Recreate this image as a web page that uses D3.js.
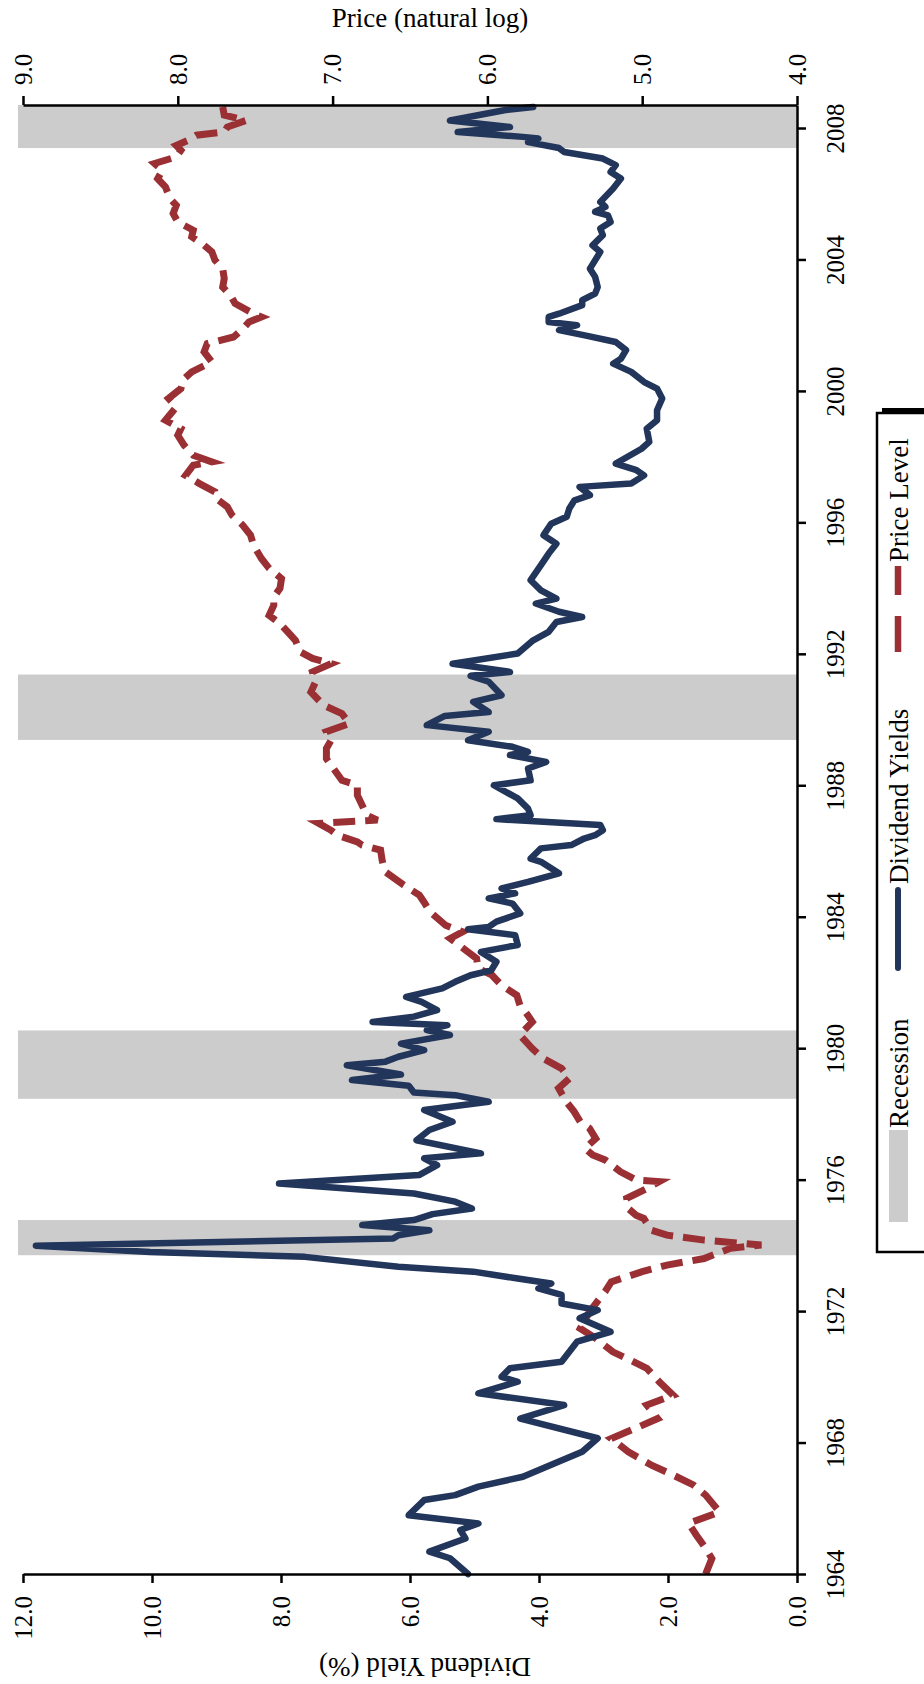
<!DOCTYPE html>
<html>
<head>
<meta charset="utf-8">
<script src="https://cdn.jsdelivr.net/npm/d3@7"></script>
<style>
  body { margin: 0; background: #fff; }
  svg text { font-family: "Liberation Serif", "Times New Roman", serif; fill: #000; }
</style>
</head>
<body>
<div id="chart"></div>
<script>
// Chart is a Stata-style figure turned 90 degrees: years run bottom -> top.
var width = 924, height = 1684;

// Data (time in decimal years)
var divYear = [1964.00,1964.48,1964.68,1965.08,1965.34,1965.54,1965.79,1966.25,1966.40,1966.66,1966.96,1967.42,1967.72,1968.13,1968.73,1969.14,1969.50,1969.85,1970.00,1970.26,1970.46,1971.07,1971.37,1971.78,1972.03,1972.23,1972.49,1972.69,1972.84,1972.99,1973.20,1973.35,1973.65,1973.80,1973.99,1974.21,1974.31,1974.46,1974.62,1974.77,1974.95,1975.12,1975.33,1975.58,1975.88,1976.14,1976.44,1976.65,1976.80,1977.20,1977.51,1977.76,1978.12,1978.37,1978.57,1978.65,1978.86,1979.03,1979.20,1979.48,1979.59,1979.74,1979.94,1980.14,1980.40,1980.55,1980.70,1980.80,1980.96,1981.16,1981.41,1981.56,1981.82,1982.02,1982.22,1982.37,1982.63,1982.93,1983.14,1983.44,1983.62,1983.69,1983.85,1984.10,1984.40,1984.56,1984.71,1984.86,1985.06,1985.32,1985.67,1985.77,1986.08,1986.18,1986.38,1986.48,1986.63,1986.79,1986.97,1987.09,1987.29,1987.60,1988.00,1988.15,1988.51,1988.71,1988.92,1989.02,1989.17,1989.37,1989.63,1989.83,1990.11,1990.23,1990.54,1990.74,1991.15,1991.33,1991.45,1991.70,1992.01,1992.41,1992.67,1992.97,1993.12,1993.28,1993.53,1993.68,1993.93,1994.24,1994.70,1995.05,1995.35,1995.61,1995.96,1996.17,1996.42,1996.67,1996.83,1997.08,1997.18,1997.43,1997.60,1997.79,1998.24,1998.45,1998.85,1999.11,1999.41,1999.77,2000.07,2000.27,2000.58,2000.83,2000.98,2001.24,2001.49,2001.69,2001.85,2002.00,2002.10,2002.25,2002.35,2002.61,2002.76,2002.96,2003.16,2003.47,2003.72,2004.23,2004.43,2004.74,2004.94,2005.14,2005.34,2005.45,2005.60,2005.75,2006.16,2006.46,2006.66,2006.87,2007.07,2007.27,2007.39,2007.57,2007.68,2007.73,2007.88,2008.03,2008.23,2008.54,2008.64];
var divYield = [5.10,5.38,5.70,5.14,5.22,4.94,6.02,5.78,5.30,4.94,4.25,3.69,3.33,3.09,4.29,3.61,4.94,4.33,4.58,4.45,3.65,3.41,2.89,3.37,3.09,3.65,3.65,4.01,3.81,4.33,5.02,6.18,7.63,10.03,11.80,6.26,6.18,5.70,6.74,5.94,5.65,5.04,5.30,5.94,8.03,5.86,5.58,5.78,4.90,5.90,5.70,5.34,5.78,4.78,5.30,5.94,6.02,6.90,6.14,6.98,6.38,6.18,5.78,6.14,5.38,5.74,5.42,6.58,5.94,5.58,5.82,6.06,5.50,5.30,5.06,4.74,4.66,4.90,4.33,4.37,5.10,4.78,4.66,4.29,4.41,4.78,4.37,4.58,4.17,3.69,3.97,4.13,3.97,3.50,3.30,3.13,3.01,3.05,4.66,4.13,4.17,4.33,4.70,4.13,4.17,3.89,4.45,4.17,4.41,5.10,4.78,5.74,5.46,4.78,5.02,4.58,4.78,5.06,4.45,5.34,4.33,4.09,3.85,3.73,3.33,3.69,4.05,3.73,3.97,4.13,3.97,3.85,3.73,3.93,3.81,3.57,3.53,3.45,3.21,3.37,2.57,2.37,2.50,2.81,2.41,2.29,2.33,2.17,2.17,2.09,2.17,2.37,2.57,2.85,2.73,2.65,2.81,3.29,3.69,3.41,3.85,3.85,3.69,3.33,3.33,3.13,3.09,3.13,3.21,3.05,3.17,3.01,3.05,2.89,2.93,3.13,2.97,3.05,2.85,2.73,2.89,2.81,3.01,3.61,3.69,4.17,4.01,4.25,5.26,4.45,5.38,4.54,4.09];

var priceYear = [1964.00,1964.47,1964.78,1965.18,1965.54,1965.89,1966.40,1966.71,1967.01,1967.31,1967.72,1968.12,1968.38,1968.73,1969.14,1969.44,1969.85,1970.26,1970.56,1970.76,1971.17,1971.47,1971.98,1972.23,1972.59,1972.89,1973.20,1973.40,1973.60,1973.91,1974.01,1974.16,1974.31,1974.46,1974.82,1974.92,1975.12,1975.43,1975.73,1975.94,1975.99,1976.24,1976.60,1976.75,1976.95,1977.25,1977.56,1977.76,1978.07,1978.37,1978.78,1979.08,1979.38,1979.69,1979.99,1980.40,1980.80,1981.01,1981.31,1981.61,1981.92,1982.22,1982.43,1982.73,1982.98,1983.34,1983.54,1983.74,1984.15,1984.45,1984.66,1984.96,1985.37,1985.72,1986.03,1986.18,1986.28,1986.48,1986.63,1986.84,1986.94,1987.09,1987.40,1987.70,1988.00,1988.15,1988.61,1988.81,1989.12,1989.37,1989.63,1989.88,1990.18,1990.44,1990.84,1991.15,1991.45,1991.70,1991.86,1992.06,1992.41,1992.67,1992.92,1993.17,1993.48,1993.73,1993.99,1994.29,1994.60,1994.90,1995.30,1995.61,1995.91,1996.22,1996.47,1996.72,1996.93,1997.18,1997.43,1997.74,1997.84,1998.04,1998.35,1998.65,1998.85,1999.11,1999.51,1999.77,2000.07,2000.37,2000.58,2000.88,2001.19,2001.44,2001.64,2001.89,2002.10,2002.25,2002.35,2002.66,2002.91,2003.16,2003.42,2003.72,2003.98,2004.23,2004.43,2004.69,2004.89,2005.14,2005.40,2005.65,2005.85,2006.21,2006.46,2006.71,2006.92,2007.12,2007.32,2007.47,2007.63,2007.78,2007.88,2008.03,2008.23,2008.39,2008.64];
var priceLog = [4.59,4.55,4.59,4.65,4.70,4.50,4.59,4.67,4.80,4.94,5.09,5.20,5.07,4.90,4.97,4.80,4.89,4.97,5.10,5.19,5.30,5.40,5.34,5.30,5.24,5.20,5.00,4.84,4.60,4.43,4.23,4.60,4.84,4.94,4.99,5.04,5.09,5.10,4.97,4.89,5.04,5.14,5.24,5.32,5.37,5.30,5.34,5.40,5.44,5.49,5.54,5.47,5.52,5.64,5.71,5.79,5.71,5.74,5.79,5.81,5.91,5.97,6.06,6.07,6.14,6.24,6.16,6.27,6.37,6.41,6.44,6.54,6.66,6.68,6.69,6.81,6.84,6.97,7.01,7.09,6.71,6.78,6.81,6.84,6.84,6.94,7.01,7.04,7.04,7.01,7.04,6.89,6.94,7.06,7.14,7.11,7.13,7.01,7.13,7.21,7.24,7.29,7.34,7.41,7.38,7.38,7.34,7.33,7.41,7.46,7.51,7.53,7.58,7.65,7.68,7.75,7.76,7.86,7.95,7.90,7.78,7.90,7.96,8.00,7.98,8.08,8.01,8.06,7.98,7.96,7.91,7.78,7.83,7.81,7.64,7.58,7.54,7.46,7.51,7.63,7.66,7.71,7.70,7.71,7.76,7.78,7.83,7.91,7.90,8.00,8.03,8.01,8.05,8.08,8.13,8.10,8.15,8.01,7.98,8.01,7.93,7.88,7.70,7.68,7.56,7.70,7.71];

var recessionStart = [1973.70, 1978.46, 1989.38, 2007.39];
var recessionEnd   = [1974.77, 1980.54, 1991.37, 2008.70];

var yearTicks  = [1964, 1968, 1972, 1976, 1980, 1984, 1988, 1992, 1996, 2000, 2004, 2008];
var yieldTicks = [0, 2, 4, 6, 8, 10, 12];
var priceTicks = [4, 5, 6, 7, 8, 9];

var legendLabels = ["Recession", "Dividend Yields", "Price Level"];

var navy = "#22355a", red = "#9a3034", grey = "#cccccc";

// Plot frame (page coords)
var plotLeft = 23, plotRight = 797, plotTop = 105, plotBottom = 1574;

var yearScale = d3.scaleLinear().domain([1964, 2008.7]).range([plotBottom, plotTop]);
var yieldScale = d3.scaleLinear().domain([0, 12]).range([plotRight, plotLeft]);
var priceScale = d3.scaleLinear().domain([4, 9]).range([plotRight, plotLeft]);

var svg = d3.select("#chart").append("svg")
  .attr("width", width)
  .attr("height", height);

svg.append("rect").attr("width", width).attr("height", height).attr("fill", "#fff");

// Recession bands
svg.append("g").selectAll("rect")
  .data(recessionStart.map(function(s, i) { return [s, recessionEnd[i]]; }))
  .enter().append("rect")
  .attr("x", 18)
  .attr("width", plotRight - 18)
  .attr("y", function(d) { return Math.max(plotTop, yearScale(d[1])); })
  .attr("height", function(d) { return yearScale(d[0]) - Math.max(plotTop, yearScale(d[1])); })
  .attr("fill", grey);

// Series
var divData = divYear.map(function(t, i) { return {t: t, v: divYield[i]}; });
var priceData = priceYear.map(function(t, i) { return {t: t, v: priceLog[i]}; });

svg.append("path")
  .datum(priceData)
  .attr("d", d3.line().x(function(d) { return priceScale(d.v); }).y(function(d) { return yearScale(d.t); }))
  .attr("fill", "none")
  .attr("stroke", red)
  .attr("stroke-width", 7)
  .attr("stroke-dasharray", "22 10");

svg.append("path")
  .datum(divData)
  .attr("d", d3.line().x(function(d) { return yieldScale(d.v); }).y(function(d) { return yearScale(d.t); }))
  .attr("fill", "none")
  .attr("stroke", navy)
  .attr("stroke-width", 6.5)
  .attr("stroke-linejoin", "round")
  .attr("stroke-linecap", "round");

// Axes
function styleAxis(g) {
  g.select(".domain").attr("stroke", "#000").attr("stroke-width", 2.5);
  g.selectAll(".tick line").attr("stroke", "#000").attr("stroke-width", 2.5);
  g.selectAll(".tick text").attr("font-size", 25).attr("font-family", "Liberation Serif, Times New Roman, serif");
}

// years (right)
var gYear = svg.append("g")
  .attr("transform", "translate(" + plotRight + ",0)")
  .call(d3.axisRight(yearScale).tickValues(yearTicks).tickFormat(d3.format("d")).tickSize(9).tickSizeOuter(0));
styleAxis(gYear);
gYear.selectAll(".tick text")
  .attr("x", 0).attr("y", 47).attr("dy", null)
  .attr("text-anchor", "middle")
  .attr("transform", "rotate(-90)");

// price (top)
var gPrice = svg.append("g")
  .attr("transform", "translate(0," + plotTop + ")")
  .call(d3.axisTop(priceScale).tickValues(priceTicks).tickFormat(d3.format(".1f")).tickSize(9).tickSizeOuter(0));
styleAxis(gPrice);
gPrice.selectAll(".tick text")
  .attr("x", 20).attr("y", 0).attr("dy", "0.33em")
  .attr("text-anchor", "start")
  .attr("transform", "rotate(-90)");

// yield (bottom)
var gYield = svg.append("g")
  .attr("transform", "translate(0," + plotBottom + ")")
  .call(d3.axisBottom(yieldScale).tickValues(yieldTicks).tickFormat(d3.format(".1f")).tickSize(9).tickSizeOuter(0));
styleAxis(gYield);
gYield.selectAll(".tick text")
  .attr("x", -22).attr("y", 0).attr("dy", "0.33em")
  .attr("text-anchor", "end")
  .attr("transform", "rotate(-90)");

// Axis titles
svg.append("text")
  .attr("x", 430).attr("y", 27)
  .attr("text-anchor", "middle")
  .attr("font-size", 27)
  .text("Price (natural log)");

svg.append("text")
  .attr("transform", "translate(425,1658) rotate(180)")
  .attr("text-anchor", "middle")
  .attr("font-size", 27)
  .text("Dividend Yield (%)");

// Legend (box runs off the right edge)
var lg = svg.append("g");
lg.append("rect").attr("x", 882).attr("y", 408).attr("width", 90).attr("height", 839).attr("fill", "#000");
lg.append("rect").attr("x", 877).attr("y", 413).attr("width", 90).attr("height", 839)
  .attr("fill", "#fff").attr("stroke", "#000").attr("stroke-width", 2.5);

lg.append("rect").attr("x", 889).attr("y", 1130).attr("width", 19).attr("height", 92).attr("fill", grey);
lg.append("line").attr("x1", 898).attr("x2", 898).attr("y1", 968).attr("y2", 890)
  .attr("stroke", navy).attr("stroke-width", 6).attr("stroke-linecap", "round");
lg.append("line").attr("x1", 898).attr("x2", 898).attr("y1", 652).attr("y2", 566)
  .attr("stroke", red).attr("stroke-width", 6.5).attr("stroke-dasharray", "36 21");

var legendPos = [1128, 884, 562];
lg.selectAll(".leg")
  .data(legendLabels)
  .enter().append("text")
  .attr("class", "leg")
  .attr("transform", function(d, i) { return "translate(908," + legendPos[i] + ") rotate(-90)"; })
  .attr("text-anchor", "start")
  .attr("font-size", 27)
  .text(function(d) { return d; });
</script>
</body>
</html>
